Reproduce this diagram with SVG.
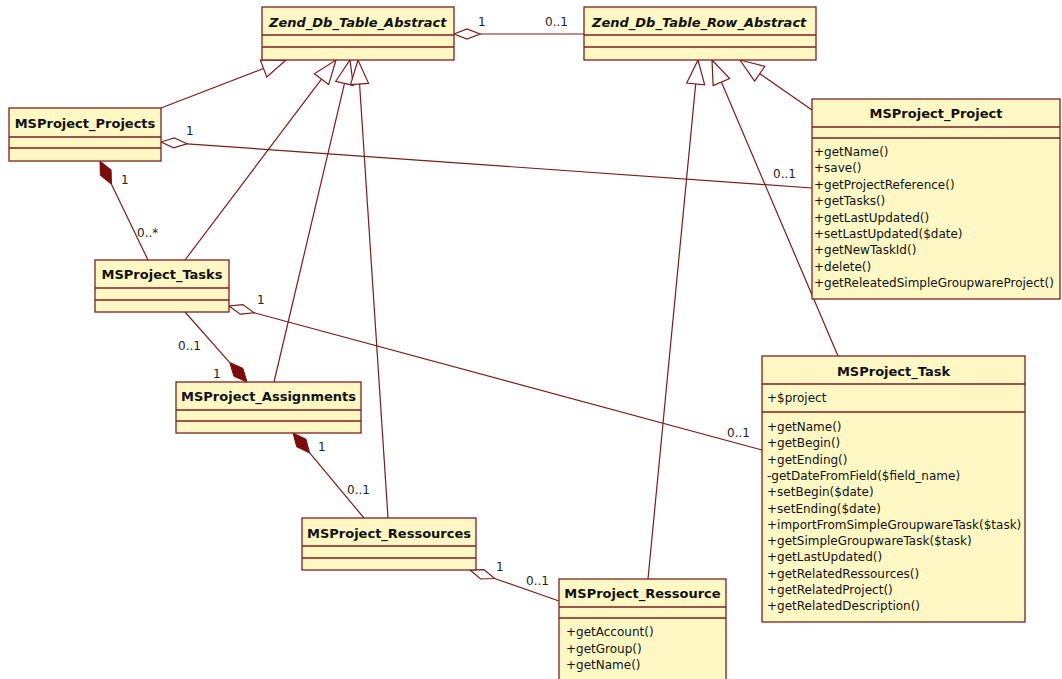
<svg xmlns="http://www.w3.org/2000/svg" width="1062" height="679" viewBox="0 0 1062 679">
<style>
.bg{fill:#fff}
.box{fill:#FFF8C5;stroke:#7d1f1f;stroke-width:1.3}
.sep{stroke:#7d1f1f;stroke-width:1.3}
.title{font-family:"DejaVu Sans",sans-serif;font-weight:bold;font-size:13px;fill:#111;text-anchor:middle}
.abs{font-style:italic;text-anchor:start}
.op{font-family:"DejaVu Sans",sans-serif;font-size:12px;fill:#111}
.conn line{stroke:#7a1c1c;stroke-width:1.2;fill:none}
.tri{fill:#fff;stroke:#7a1c1c;stroke-width:1.2}
.hd{fill:#fff;stroke:#7a1c1c;stroke-width:1.2}
.fd{fill:#7a0c0c;stroke:#7a0c0c;stroke-width:1}
.lbl{font-family:"DejaVu Sans",sans-serif;font-size:12px;fill:#222}
</style>
<rect class="bg" x="0" y="0" width="1062" height="679"/>
<g id="connectors" class="conn">
  <!-- generalizations -->
  <line x1="161" y1="108" x2="263.57" y2="68.55"/>
  <polygon class="tri" points="286,60 266.77,76.96 260.37,60.14"/>
  <line x1="185" y1="260" x2="321.49" y2="79.12"/>
  <polygon class="tri" points="336,60 328.66,84.56 314.32,73.68"/>
  <line x1="274" y1="382" x2="344.49" y2="83.36"/>
  <polygon class="tri" points="350,60 353.25,85.43 335.73,81.29"/>
  <line x1="388" y1="518" x2="359.57" y2="83.95"/>
  <polygon class="tri" points="358,60 368.55,83.36 350.59,84.54"/>
  <line x1="648" y1="579" x2="695.7" y2="83.89"/>
  <polygon class="tri" points="698,60 704.66,84.75 686.74,83.03"/>
  <line x1="838" y1="356" x2="721.4" y2="82.08"/>
  <polygon class="tri" points="712,60 729.68,78.55 713.12,85.61"/>
  <line x1="812" y1="110" x2="759.71" y2="73.69"/>
  <polygon class="tri" points="740,60 764.84,66.3 754.58,81.08"/>
  <!-- aggregations -->
  <line x1="480" y1="34" x2="584" y2="34"/>
  <polygon class="hd" points="454,34 467,29 480,34 467,39"/>
  <line x1="186.94" y1="143.83" x2="812" y2="188"/>
  <polygon class="hd" points="161,142 173.62,147.91 186.94,143.83 174.32,137.93"/>
  <line x1="254.1" y1="312.78" x2="762" y2="450"/>
  <polygon class="hd" points="229,306 240.25,314.22 254.1,312.78 242.85,304.56"/>
  <line x1="494.55" y1="578.55" x2="559" y2="601"/>
  <polygon class="hd" points="470,570 480.63,579 494.55,578.55 483.93,569.56"/>
  <!-- compositions -->
  <line x1="111.44" y1="184.35" x2="148" y2="260"/>
  <polygon class="fd" points="100,161 100.33,175.31 111.44,184.35 111.11,170.03"/>
  <line x1="229.76" y1="362.53" x2="185" y2="312"/>
  <polygon class="fd" points="247,382 242.87,368.29 229.76,362.53 233.89,376.25"/>
  <line x1="309.67" y1="452.96" x2="364" y2="518"/>
  <polygon class="fd" points="293,433 296.72,446.83 309.67,452.96 305.94,439.13"/>
  <!-- multiplicities -->
  <text class="lbl" x="478" y="26">1</text>
  <text class="lbl" x="545" y="26">0..1</text>
  <text class="lbl" x="186" y="135">1</text>
  <text class="lbl" x="773" y="178">0..1</text>
  <text class="lbl" x="121" y="184">1</text>
  <text class="lbl" x="137" y="237">0..*</text>
  <text class="lbl" x="257" y="304">1</text>
  <text class="lbl" x="727" y="437">0..1</text>
  <text class="lbl" x="178" y="350">0..1</text>
  <text class="lbl" x="213" y="378">1</text>
  <text class="lbl" x="318" y="451">1</text>
  <text class="lbl" x="347" y="494">0..1</text>
  <text class="lbl" x="496" y="571">1</text>
  <text class="lbl" x="526" y="585">0..1</text>
</g>
<g id="Zend_Db_Table_Abstract">
  <rect class="box" x="262" y="7" width="192" height="53"/>
  <line class="sep" x1="262" y1="35" x2="454" y2="35"/>
  <line class="sep" x1="262" y1="47" x2="454" y2="47"/>
  <text class="title abs" x="269" y="27">Zend_Db_Table_Abstract</text>
</g>
<g id="Zend_Db_Table_Row_Abstract">
  <rect class="box" x="584" y="7" width="232" height="53"/>
  <line class="sep" x1="584" y1="35" x2="816" y2="35"/>
  <line class="sep" x1="584" y1="47" x2="816" y2="47"/>
  <text class="title abs" x="592" y="27">Zend_Db_Table_Row_Abstract</text>
</g>
<g id="MSProject_Projects">
  <rect class="box" x="9" y="108" width="152" height="53"/>
  <line class="sep" x1="9" y1="137" x2="161" y2="137"/>
  <line class="sep" x1="9" y1="148" x2="161" y2="148"/>
  <text class="title" x="85" y="128">MSProject_Projects</text>
</g>
<g id="MSProject_Tasks">
  <rect class="box" x="95" y="260" width="134" height="52"/>
  <line class="sep" x1="95" y1="288" x2="229" y2="288"/>
  <line class="sep" x1="95" y1="300" x2="229" y2="300"/>
  <text class="title" x="162" y="279">MSProject_Tasks</text>
</g>
<g id="MSProject_Assignments">
  <rect class="box" x="176" y="382" width="185" height="51"/>
  <line class="sep" x1="176" y1="410" x2="361" y2="410"/>
  <line class="sep" x1="176" y1="421" x2="361" y2="421"/>
  <text class="title" x="268.5" y="401">MSProject_Assignments</text>
</g>
<g id="MSProject_Ressources">
  <rect class="box" x="302" y="518" width="174" height="52"/>
  <line class="sep" x1="302" y1="546" x2="476" y2="546"/>
  <line class="sep" x1="302" y1="558" x2="476" y2="558"/>
  <text class="title" x="389" y="538">MSProject_Ressources</text>
</g>
<g id="MSProject_Ressource">
  <rect class="box" x="559" y="579" width="167" height="110"/>
  <line class="sep" x1="559" y1="607" x2="726" y2="607"/>
  <line class="sep" x1="559" y1="618" x2="726" y2="618"/>
  <text class="title" x="642.5" y="598">MSProject_Ressource</text>
  <text class="op" x="566" y="636">+getAccount()</text>
  <text class="op" x="566" y="652.5">+getGroup()</text>
  <text class="op" x="566" y="669">+getName()</text>
</g>
<g id="MSProject_Project">
  <rect class="box" x="812" y="99" width="248" height="200"/>
  <line class="sep" x1="812" y1="127" x2="1060" y2="127"/>
  <line class="sep" x1="812" y1="138" x2="1060" y2="138"/>
  <text class="title" x="936" y="118">MSProject_Project</text>
  <text class="op" x="814" y="156">+getName()</text>
  <text class="op" x="814" y="172.4">+save()</text>
  <text class="op" x="814" y="188.8">+getProjectReference()</text>
  <text class="op" x="814" y="205.2">+getTasks()</text>
  <text class="op" x="814" y="221.6">+getLastUpdated()</text>
  <text class="op" x="814" y="238">+setLastUpdated($date)</text>
  <text class="op" x="814" y="254.4">+getNewTaskId()</text>
  <text class="op" x="814" y="270.8">+delete()</text>
  <text class="op" x="814" y="287.2">+getReleatedSimpleGroupwareProject()</text>
</g>
<g id="MSProject_Task">
  <rect class="box" x="762" y="356" width="263" height="266"/>
  <line class="sep" x1="762" y1="384" x2="1025" y2="384"/>
  <line class="sep" x1="762" y1="412" x2="1025" y2="412"/>
  <text class="title" x="893.5" y="376">MSProject_Task</text>
  <text class="op" x="767" y="402">+$project</text>
  <text class="op" x="767" y="431">+getName()</text>
  <text class="op" x="767" y="447.3">+getBegin()</text>
  <text class="op" x="767" y="463.6">+getEnding()</text>
  <text class="op" x="767" y="479.9">-getDateFromField($field_name)</text>
  <text class="op" x="767" y="496.2">+setBegin($date)</text>
  <text class="op" x="767" y="512.5">+setEnding($date)</text>
  <text class="op" x="767" y="528.8">+importFromSimpleGroupwareTask($task)</text>
  <text class="op" x="767" y="545.1">+getSimpleGroupwareTask($task)</text>
  <text class="op" x="767" y="561.4">+getLastUpdated()</text>
  <text class="op" x="767" y="577.7">+getRelatedRessources()</text>
  <text class="op" x="767" y="594">+getRelatedProject()</text>
  <text class="op" x="767" y="610.3">+getRelatedDescription()</text>
</g>
</svg>
